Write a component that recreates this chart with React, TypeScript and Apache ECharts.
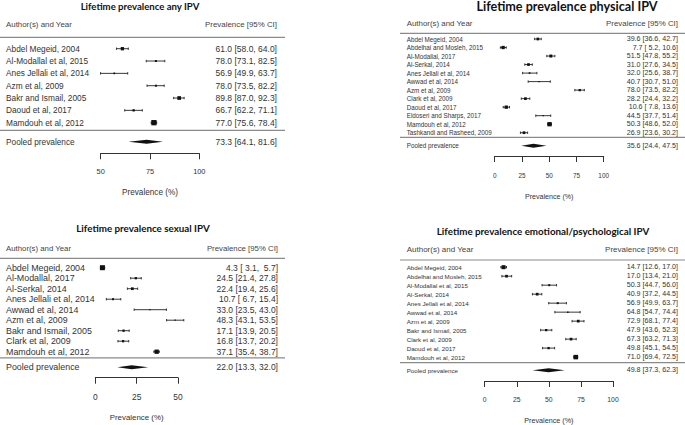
import React, { useEffect, useRef } from "react";
import * as echarts from "echarts";

// ---------- Data ----------
const anyStudies = ["Abdel Megeid, 2004", "Al-Modallal et al, 2015", "Anes Jellali et al, 2014", "Azm et al, 2009", "Bakr and Ismail, 2005", "Daoud et al, 2017", "Mamdouh et al, 2012"];
const anyEst = [61.0, 78.0, 56.9, 78.0, 89.8, 66.7, 77.0];
const anyLower = [58.0, 73.1, 49.9, 73.5, 87.0, 62.2, 75.6];
const anyUpper = [64.0, 82.5, 63.7, 82.2, 92.3, 71.1, 78.4];
const anyWeight = [3.3, 2, 1.7, 2, 3.7, 2.3, 5.3];
const anyPooled = [73.3, 64.1, 81.6];

const physStudies = ["Abdel Megeid, 2004", "Abdelhai and Mosleh, 2015", "Al-Modallal, 2017", "Al-Serkal, 2014", "Anes Jellali et al, 2014", "Awwad et al, 2014", "Azm et al, 2009", "Clark et al, 2009", "Daoud et al, 2017", "Eldoseri and Sharps, 2017", "Mamdouh et al, 2012", "Tashkandi and Rasheed, 2009"];
const physEst = [39.6, 7.7, 51.5, 31.0, 32.0, 40.7, 78.0, 28.2, 10.6, 44.5, 50.3, 26.9];
const physLower = [36.6, 5.2, 47.8, 27.6, 25.6, 30.7, 73.5, 24.4, 7.8, 37.7, 48.6, 23.6];
const physUpper = [42.7, 10.6, 55.2, 34.5, 38.7, 51.0, 82.2, 32.2, 13.6, 51.4, 52.0, 30.2];
const physWeight = [2.7, 3.3, 3, 2.7, 1.7, 1.3, 2.3, 2.7, 3.3, 1.3, 4.3, 2.7];
const physPooled = [35.6, 24.4, 47.5];

const sexStudies = ["Abdel Megeid, 2004", "Al-Modallal, 2017", "Al-Serkal, 2014", "Anes Jellali et al, 2014", "Awwad et al, 2014", "Azm et al, 2009", "Bakr and Ismail, 2005", "Clark et al, 2009", "Mamdouh et al, 2012"];
const sexEst = [4.3, 24.5, 22.4, 10.7, 33.0, 48.3, 17.1, 16.8, 37.1];
const sexLower = [3.1, 21.4, 19.4, 6.7, 23.5, 43.1, 13.9, 13.7, 35.4];
const sexUpper = [5.7, 27.8, 25.6, 15.4, 43.0, 53.5, 20.5, 20.2, 38.7];
const sexWeight = [5, 2.3, 2.7, 2, 1.3, 1.3, 2.3, 2.3, 4.3];
const sexPooled = [22.0, 13.3, 32.0];

const emoStudies = ["Abdel Megeid, 2004", "Abdelhai and Mosleh, 2015", "Al-Modallal et al, 2015", "Al-Serkal, 2014", "Anes Jellali et al, 2014", "Awwad et al, 2014", "Azm et al, 2009", "Bakr and Ismail, 2005", "Clark et al, 2009", "Daoud et al, 2017", "Mamdouh et al, 2012"];
const emoEst = [14.7, 17.0, 50.3, 40.9, 56.9, 64.8, 72.9, 47.9, 67.3, 49.8, 71.0];
const emoLower = [12.6, 13.4, 44.7, 37.2, 49.9, 54.7, 68.1, 43.6, 63.2, 45.1, 69.4];
const emoUpper = [17.0, 21.0, 56.0, 44.5, 63.7, 74.4, 77.4, 52.3, 71.3, 54.5, 72.5];
const emoWeight = [4, 2.7, 2, 2.7, 2, 1.5, 2.7, 2.3, 2.7, 2.3, 4.5];
const emoPooled = [49.8, 37.3, 62.3];

const titles = ["Lifetime prevalence any IPV", "Lifetime prevalence physical IPV", "Lifetime prevalence sexual IPV", "Lifetime prevalence emotional/psychological IPV"];
const xTicks = [[50, 100, 25], [0, 100, 25], [0, 50, 25], [0, 100, 25]];

// ---------- Layout (pixels) ----------
const layouts = [
  { titleX: 140, titleY: 6, titleSize: 9.6, left: 0, right: 285, nameX: 6, valX: 277, headY: 24, headLine: 37.3, footLine: 130.3,
    firstY: 48.7, rowH: 12.33, pooledY: 141.7, axisY: 153.3, x0: 100.7, x1: 199.3,
    nameSize: 8.3, valSize: 8.5, headSize: 7.9, tickSize: 7.4, axNameSize: 8.2, labelMargin: 15, nameGap: 35.5 },
  { titleX: 567, titleY: 6, titleSize: 12.6, left: 400, right: 685, nameX: 406.7, valX: 678, headY: 23.3, headLine: 33.3, footLine: 137.3,
    firstY: 39, rowH: 8.52, pooledY: 145.7, axisY: 156, x0: 494.7, x1: 603.7,
    nameSize: 6.3, valSize: 7.1, headSize: 7.9, tickSize: 6.4, axNameSize: 7.1, labelMargin: 16, nameGap: 37 },
  { titleX: 143, titleY: 228.3, titleSize: 9.8, left: 0, right: 285, nameX: 6, valX: 278, headY: 248.3, headLine: 258.3, footLine: 357.9,
    firstY: 267.7, rowH: 10.5, pooledY: 367.3, axisY: 377.7, x0: 95.3, x1: 178,
    nameSize: 8.9, valSize: 8.5, headSize: 7.8, tickSize: 8.4, axNameSize: 7.9, labelMargin: 15, nameGap: 36 },
  { titleX: 543, titleY: 230.7, titleSize: 9.8, left: 400, right: 685, nameX: 406.7, valX: 678, headY: 249, headLine: 260, footLine: 362.7,
    firstY: 267.3, rowH: 9.1, pooledY: 371.7, axisY: 382.5, x0: 484.7, x1: 613,
    nameSize: 6.2, valSize: 7.1, headSize: 8, tickSize: 6.8, axNameSize: 7.2, labelMargin: 15, nameGap: 36 },
];

const FONT = "Liberation Sans";
const TEXT = "#333";

function pad(v: number) {
  const s = v.toFixed(1);
  return s.length < 4 ? " ".repeat(4 - s.length) + s : s;
}
function ciText(e: number, l: number, u: number) {
  return `${e.toFixed(1)} [${pad(l)}, ${pad(u)}]`;
}

const panels = [
  { names: anyStudies, est: anyEst, lo: anyLower, hi: anyUpper, w: anyWeight, pooled: anyPooled },
  { names: physStudies, est: physEst, lo: physLower, hi: physUpper, w: physWeight, pooled: physPooled },
  { names: sexStudies, est: sexEst, lo: sexLower, hi: sexUpper, w: sexWeight, pooled: sexPooled },
  { names: emoStudies, est: emoEst, lo: emoLower, hi: emoUpper, w: emoWeight, pooled: emoPooled },
];

function panelOption(i: number) {
  const p = panels[i];
  const L = layouts[i];
  const top = L.firstY - L.rowH;
  const pooledRow = (L.pooledY - L.firstY) / L.rowH;
  const rows: number[][] = p.names.map((_, k) => [p.est[k], p.lo[k], p.hi[k], k, p.w[k], 0]);
  rows.push([p.pooled[0], p.pooled[1], p.pooled[2], pooledRow, 0, 1]);
  return {
    animation: false,
    grid: { show: false, left: L.x0, top, width: L.x1 - L.x0, height: L.axisY - top },
    xAxis: {
      type: "value", min: xTicks[i][0], max: xTicks[i][1], interval: xTicks[i][2],
      axisLine: { show: true, onZero: false, lineStyle: { color: TEXT, width: 1 } },
      axisTick: { show: true, length: 6, lineStyle: { color: TEXT, width: 1 } },
      axisLabel: { color: TEXT, fontSize: L.tickSize, fontFamily: FONT, margin: L.labelMargin },
      splitLine: { show: false },
      name: "Prevalence (%)", nameLocation: "middle", nameGap: L.nameGap,
      nameTextStyle: { color: TEXT, fontSize: L.axNameSize, fontFamily: FONT },
    },
    yAxis: {
      type: "value", inverse: true, min: -1, max: (L.axisY - L.firstY) / L.rowH, show: false,
      axisLine: { show: false, onZero: false }, axisTick: { show: false }, axisLabel: { show: false }, splitLine: { show: false },
    },
    series: [{
      type: "custom", clip: false, silent: true,
      encode: { x: [0, 1, 2], y: 3 },
      data: rows,
      renderItem: (params: any, api: any) => {
        const k = params.dataIndex;
        const row = api.value(3);
        const pe = api.coord([api.value(0), row]);
        const pl = api.coord([api.value(1), row]);
        const ph = api.coord([api.value(2), row]);
        const s = api.value(4);
        const kind = api.value(5);
        const y = pe[1];
        const txt = (x: number, yy: number, text: string, size: number, align: string, fill = TEXT, extra: any = {}) => ({
          type: "text", x, y: yy, style: { text, fill, fontSize: size, fontFamily: FONT, align, verticalAlign: "middle", ...extra },
        });
        if (kind === 1) {
          const h = 2;
          return {
            type: "group",
            children: [
              { type: "polygon", shape: { points: [[pl[0], y], [pe[0], y - h], [ph[0], y], [pe[0], y + h]] }, style: { fill: "#111" } },
              txt(L.nameX, y, "Pooled prevalence", L.nameSize, "left"),
              txt(L.valX, y, ciText(p.pooled[0], p.pooled[1], p.pooled[2]), L.valSize, "right"),
              txt(L.titleX, L.titleY, titles[i], L.titleSize, "center", "#111", { fontWeight: "bold", fontFamily: "Lato" }),
              txt(L.nameX, L.headY, "Author(s) and Year", L.headSize, "left", "#444"),
              txt(L.valX, L.headY, "Prevalence [95% CI]", L.headSize, "right", "#444"),
              { type: "rect", shape: { x: L.left, y: L.headLine - 0.6, width: L.right - L.left, height: 1.2 }, style: { fill: "#8a8a8a" } },
              { type: "rect", shape: { x: L.left, y: L.footLine - 0.6, width: L.right - L.left, height: 1.2 }, style: { fill: "#8a8a8a" } },
            ],
          };
        }
        return {
          type: "group",
          children: [
            { type: "line", shape: { x1: pl[0], y1: y, x2: ph[0], y2: y }, style: { stroke: "#222", lineWidth: 0.9 } },
            { type: "line", shape: { x1: pl[0], y1: y - 1.2, x2: pl[0], y2: y + 1.2 }, style: { stroke: "#222", lineWidth: 0.9 } },
            { type: "line", shape: { x1: ph[0], y1: y - 1.2, x2: ph[0], y2: y + 1.2 }, style: { stroke: "#222", lineWidth: 0.9 } },
            { type: "rect", shape: { x: pe[0] - s / 2, y: y - s / 2, width: s, height: s }, style: { fill: "#111" } },
            txt(L.nameX, y, p.names[k], L.nameSize, "left"),
            txt(L.valX, y, ciText(p.est[k], p.lo[k], p.hi[k]), L.valSize, "right"),
          ],
        };
      },
    }],
  };
}

export default function App() {
  const r0 = useRef<HTMLDivElement>(null);
  const r1 = useRef<HTMLDivElement>(null);
  const r2 = useRef<HTMLDivElement>(null);
  const r3 = useRef<HTMLDivElement>(null);
  useEffect(() => {
    const refs = [r0, r1, r2, r3];
    const charts = refs.map((r, i) => {
      if (!r.current) return null;
      const c = echarts.init(r.current, null, { renderer: "svg" });
      c.setOption(panelOption(i));
      return c;
    });
    return () => charts.forEach((c) => c && c.dispose());
  }, []);
  const st: React.CSSProperties = { position: "absolute", left: 0, top: 0, width: 685, height: 425 };
  return (
    <div style={{ position: "absolute", left: 0, top: 0, width: 685, height: 425, background: "#fff" }}>
      <div ref={r0} style={st} />
      <div ref={r1} style={st} />
      <div ref={r2} style={st} />
      <div ref={r3} style={st} />
    </div>
  );
}
